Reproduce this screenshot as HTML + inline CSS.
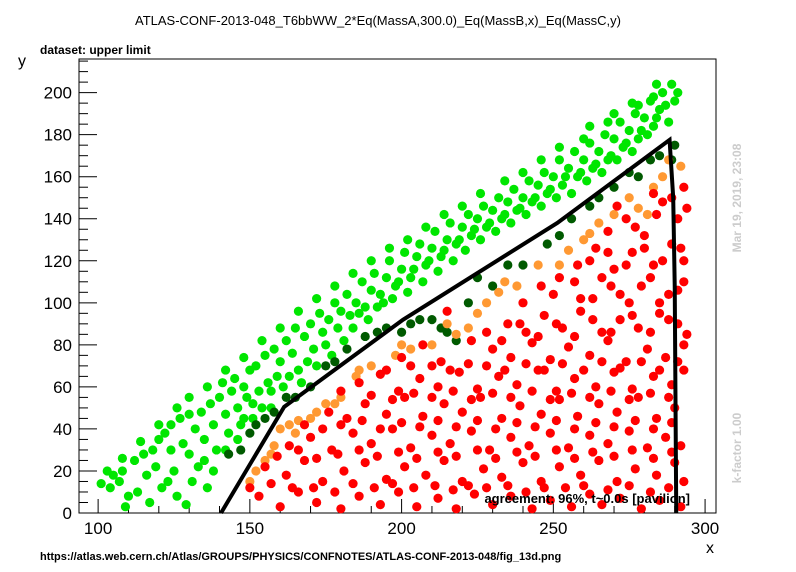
<!DOCTYPE html>
<html><head><meta charset="utf-8"><style>
body{margin:0;background:#fff;}
svg{display:block;font-family:"Liberation Sans",sans-serif;}
</style></head><body>
<svg id="chart" width="796" height="572">
<text x="378" y="25" font-size="13" text-anchor="middle">ATLAS-CONF-2013-048_T6bbWW_2*Eq(MassA,300.0)_Eq(MassB,x)_Eq(MassC,y)</text>
<text x="40" y="54" font-size="12" font-weight="bold">dataset: upper limit</text>
<text x="22" y="66" font-size="16" text-anchor="middle">y</text>
<text x="710" y="553" font-size="16" text-anchor="middle">x</text>
<text x="40" y="560" font-size="11" font-weight="bold">https://atlas.web.cern.ch/Atlas/GROUPS/PHYSICS/CONFNOTES/ATLAS-CONF-2013-048/fig_13d.png</text>
<text transform="translate(741,198) rotate(-90)" font-size="12" font-weight="bold" fill="#cccccc" text-anchor="middle">Mar 19, 2019, 23:08</text>
<text transform="translate(741,448) rotate(-90)" font-size="12" font-weight="bold" fill="#cccccc" text-anchor="middle">k-factor 1.00</text>
<g id="axes"></g>
<g id="marks"></g>
<text x="690" y="503" font-size="13" font-weight="bold" text-anchor="end">agreement: 96%, t~0.0s [pavilion]</text>
</svg>
<script>
const xTicks=[100,150,200,250,300];
const yTicks=[0,20,40,60,80,100,120,140,160,180,200];
const greenPts=[[103,20],[105,18],[107,15],[104,12],[109,3],[108,20],[112,25],[113,10],[115,28],[116,18],[118,30],[119,22],[120,35],[121,12],[122,38],[124,30],[124,42],[125,20],[126,8],[127,45],[128,33],[129,4],[130,47],[130,28],[132,40],[133,22],[134,48],[135,35],[136,12],[137,52],[138,42],[139,30],[140,55],[141,62],[142,47],[143,38],[144,58],[145,64],[146,50],[147,42],[148,60],[149,55],[150,68],[151,45],[152,70],[153,58],[155,75],[156,62],[157,50],[158,78],[160,72],[161,60],[162,82],[164,76],[165,88],[166,68],[168,84],[170,90],[171,78],[173,95],[174,86],[176,92],[178,100],[179,88],[180,96],[182,104],[183,94],[185,100],[187,110],[188,98],[190,106],[191,114],[193,104],[195,112],[196,120],[198,108],[200,116],[201,124],[203,112],[205,122],[206,128],[208,118],[210,126],[211,134],[213,122],[215,130],[216,138],[218,128],[220,136],[222,142],[223,132],[225,140],[227,146],[228,136],[230,144],[232,150],[233,140],[235,148],[237,154],[238,144],[240,150],[242,158],[243,148],[245,156],[247,162],[248,152],[250,160],[252,168],[253,156],[255,164],[257,172],[258,160],[260,168],[262,176],[263,164],[265,172],[267,180],[268,168],[270,178],[272,186],[273,174],[275,182],[277,190],[278,178],[280,188],[282,196],[283,184],[285,192],[286,200],[288,186],[289,204],[290,196],[284,204],[278,194],[270,190],[262,184],
[110,8],[117,5],[123,15],[131,15],[135,25],[138,20],[142,30],[146,35],[148,45],[151,52],[154,50],[157,58],[159,65],[163,65],[167,62],[169,72],[172,70],[175,80],[177,75],[181,82],[184,88],[186,95],[189,92],[192,98],[194,100],[197,102],[199,110],[202,105],[204,116],[207,110],[209,120],[212,115],[214,125],[217,120],[219,130],[221,125],[224,135],[226,130],[229,138],[231,134],[234,142],[236,138],[239,145],[241,142],[244,150],[246,146],[249,154],[251,150],[254,160],[256,152],[259,162],[261,158],[264,166],[266,162],[269,170],[271,168],[274,176],[276,172],[279,182],[281,180],[284,188],[287,194],[291,200],[283,198],[276,195],[268,186],[260,178],[252,174],[246,168],[240,162],[234,158],[226,152],[220,146],[214,142],[208,136],[202,130],[196,126],[190,120],[184,114],[178,108],[172,102],[166,96],[160,88],[154,82],[148,74],[142,68],[136,60],[130,55],[126,50],[120,42],[114,34],[108,26],[101,14]];
const darkGreenPts=[[150,38],[152,42],[155,45],[158,48],[162,55],[175,70],[182,78],[188,84],[192,86],[206,92],[210,92],[213,88],[215,86],[218,82],[222,100],[230,108],[240,118],[248,128],[256,140],[265,150],[275,162],[278,160],[285,170],[290,175],[289,168],
[143,28],[147,30],[165,55],[170,60],[178,72],[195,88],[200,86],[203,90],[225,112],[235,118],[252,132],[262,146],[270,155],[282,168]];
const orangePts=[[152,20],[155,25],[158,32],[160,40],[163,42],[165,38],[170,45],[172,48],[175,52],[180,55],[185,65],[190,70],[198,75],[203,78],[210,80],[218,85],[222,88],[225,95],[228,100],[232,105],[238,108],[245,118],[255,125],[260,130],[265,138],[270,142],[278,145],[281,142],[286,160],[292,165],[288,168],
[150,15],[157,28],[166,44],[178,52],[186,68],[200,80],[215,90],[234,110],[252,118],[262,133],[275,150],[283,155]];
const redPts=[[153,8],[160,3],[166,10],[172,5],[180,2],[186,8],[193,4],[199,10],[205,3],[212,7],[218,2],[224,9],[230,4],[236,8],[243,2],[249,6],[256,3],[262,9],[266,4],[272,7],[279,2],[285,6],[292,3],
[155,22],[162,18],[168,25],[174,15],[181,20],[188,24],[195,16],[201,22],[208,18],[214,25],[220,15],[227,21],[233,17],[240,24],[246,15],[252,22],[259,18],[265,25],[271,15],[277,21],[284,18],[290,24],[293,15],
[163,32],[170,36],[177,30],[184,38],[190,33],[197,40],[203,31],[210,37],[216,33],[223,39],[229,30],[236,36],[242,32],[249,38],[255,31],[262,37],[268,33],[275,39],[281,31],[287,36],[292,32],
[176,48],[182,45],[188,52],[195,47],[201,55],[207,46],[214,52],[220,48],[226,55],[233,45],[239,51],[246,47],[252,54],[258,46],[265,52],[271,48],[278,55],[284,45],[290,50],
[186,62],[193,66],[199,58],[206,64],[212,60],[219,67],[225,59],[232,65],[238,61],[245,68],[251,58],[257,64],[264,60],[270,67],[276,59],[283,65],[289,61],[293,68],
[200,74],[207,80],[213,72],[230,78],[236,74],[243,81],[249,73],[255,79],[262,75],[268,82],[274,72],[281,78],[287,74],[293,80],
[215,96],[235,90],[241,86],[247,94],[253,88],[259,96],[266,86],[272,92],[278,88],[285,95],[291,90],
[240,100],[250,104],[257,110],[263,102],[269,108],[275,100],[282,112],[288,104],[293,110],
[258,118],[264,126],[270,116],[276,124],[283,118],[289,128],[293,120],
[268,134],[274,140],[280,132],[286,148],[291,140],[283,152],[293,155],
[150,12],[157,14],[164,12],[171,12],[178,10],[184,14],[191,12],[197,14],[204,12],[211,13],[217,11],[222,13],[228,12],[235,13],[241,10],[247,12],[254,12],[260,13],[268,11],[275,13],[282,10],[288,12],
[159,27],[166,30],[172,26],[179,28],[186,30],[192,27],[199,29],[205,26],[212,29],[218,27],[225,30],[231,26],[238,29],[244,27],[251,30],[257,26],[263,29],[270,27],[276,30],[283,26],[289,29],
[168,42],[174,40],[180,42],[187,44],[193,40],[200,43],[206,41],[212,44],[218,41],[225,44],[231,40],[238,43],[244,41],[251,44],[257,40],[264,43],[270,41],[277,44],[283,40],[289,43],
[180,58],[190,56],[197,54],[204,57],[210,55],[217,58],[223,54],[230,57],[236,55],[243,58],[249,54],[256,57],[262,55],[269,58],[275,54],[282,57],[288,55],
[195,68],[203,70],[210,70],[216,68],[222,71],[228,70],[234,68],[241,71],[247,68],[253,71],[260,68],[266,72],[272,69],[279,72],[285,68],[291,72],
[223,82],[228,86],[233,82],[239,90],[245,84],[251,90],[257,84],[263,92],[269,86],[276,94],[282,86],[288,92],[294,85],
[246,108],[252,112],[259,102],[266,112],[272,104],[279,108],[285,100],[291,106],
[262,120],[268,124],[274,118],[280,126],[286,120],[292,126],
[271,146],[277,136],[284,142],[289,150],[294,145]];
const limitX=[140.5,161.3,200.5,251.3,288.3,289.5,290,290.5];
const limitY=[0,50.5,92,138,177.5,150,108,0];

const L=79,R=716,T=59,B=513,X0=93.7,X1=303.6,Y0=0,Y1=216;
const sx=v=>L+(v-X0)/(X1-X0)*(R-L);
const sy=v=>B-(v-Y0)/(Y1-Y0)*(B-T);
const NS="http://www.w3.org/2000/svg";
const axes=document.getElementById('axes'),marks=document.getElementById('marks');
function mk(tag,attrs,parent){const e=document.createElementNS(NS,tag);for(const k in attrs)e.setAttribute(k,attrs[k]);parent.appendChild(e);return e;}
const frame=mk('rect',{x:L,y:T,width:R-L,height:B-T,fill:'none',stroke:'#000','stroke-width':1},axes);


for(let v=95;v<=X1;v+=5){const maj=xTicks.includes(v);const len=maj?14:(v%10===0?7:0);if(!len)continue;
 const t=mk('line',{x1:sx(v),x2:sx(v),y1:B,y2:B-len,stroke:'#000'},axes);
 
 }
xTicks.forEach(v=>{const t=mk('text',{x:sx(v),y:B+21,'font-size':17,'text-anchor':'middle'},axes);t.textContent=v;
 
 });
for(let v=0;v<=Y1;v+=5){const maj=yTicks.includes(v);const len=maj?18:9;
 const t=mk('line',{x1:L,x2:L+len,y1:sy(v),y2:sy(v),stroke:'#000'},axes);
 
 }
yTicks.forEach(v=>{const t=mk('text',{x:L-7,y:sy(v)+6,'font-size':17,'text-anchor':'end'},axes);t.textContent=v;
 
 });
function drawPts(pts,color,name){pts.forEach(p=>{const c=mk('circle',{cx:sx(p[0]),cy:sy(p[1]),r:4.6,fill:color},marks);
 
 });}
drawPts(greenPts,'#00e600','excluded-point');
drawPts(darkGreenPts,'#005a00','borderline-excluded-point');
drawPts(orangePts,'#ff9933','borderline-allowed-point');
drawPts(redPts,'#ff0000','allowed-point');
const pl=mk('polyline',{points:limitX.map((x,i)=>sx(x)+','+sy(limitY[i])).join(' '),fill:'none',stroke:'#000','stroke-width':4},marks);


</script>
</body></html>
